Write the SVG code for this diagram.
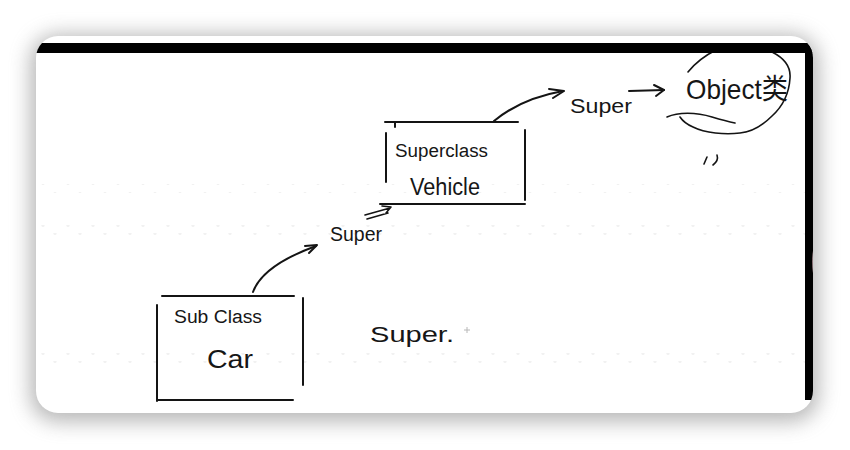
<svg xmlns="http://www.w3.org/2000/svg" width="850" height="450" viewBox="0 0 850 450">
  <style>
    .ink { fill: none; stroke: #141414; stroke-width: 2; stroke-linecap: round; stroke-linejoin: round; }
    .thin { fill: none; stroke: #141414; stroke-width: 1.6; stroke-linecap: round; stroke-linejoin: round; }
    .txt { font-family: "Liberation Sans", "Noto Sans CJK SC", sans-serif; fill: #161616; }
  </style>
  <defs>
    <filter id="shadow" x="-10%" y="-15%" width="120%" height="135%">
      <feGaussianBlur stdDeviation="10"/>
    </filter>
    <clipPath id="cardClip">
      <rect x="36" y="36" width="777" height="377" rx="22"/>
    </clipPath>
    <pattern id="dots" x="40" y="0" width="25" height="8" patternUnits="userSpaceOnUse">
      <circle cx="3" cy="1.5" r="1.6" fill="#f1f1f1"/>
    </pattern>
    <pattern id="dots2" x="52" y="0" width="25" height="8" patternUnits="userSpaceOnUse">
      <circle cx="3" cy="1.5" r="1.6" fill="#f1f1f1"/>
    </pattern>
  </defs>

  <!-- background and card -->
  <rect x="0" y="0" width="850" height="450" fill="#ffffff"/>
  <rect x="30" y="34" width="789" height="388" rx="28" fill="#8a8a8a" opacity="0.6" filter="url(#shadow)"/>
  <rect x="36" y="36" width="777" height="377" rx="22" fill="#ffffff"/>

  <!-- faint dot grid -->
  <g id="grid" clip-path="url(#cardClip)">
    <rect x="40" y="99" width="765" height="4" fill="url(#dots)"/>
    <rect x="40" y="107" width="765" height="4" fill="url(#dots2)"/>
    <rect x="40" y="181" width="765" height="4" fill="url(#dots)"/>
    <rect x="40" y="189" width="765" height="4" fill="url(#dots2)"/>
    <rect x="40" y="225" width="765" height="4" fill="url(#dots)"/>
    <rect x="40" y="233" width="765" height="4" fill="url(#dots2)"/>
    <rect x="40" y="308" width="765" height="4" fill="url(#dots)"/>
    <rect x="40" y="316" width="765" height="4" fill="url(#dots2)"/>
    <rect x="40" y="353" width="765" height="4" fill="url(#dots)"/>
    <rect x="40" y="361" width="765" height="4" fill="url(#dots2)"/>
  </g>

  <!-- nodes -->
  <g id="car">
    <path class="ink" d="M162,296 L294,296 M157,305 L157,401 M157,400 L293,400 M303,298 L303,385"/>
    <text class="txt" x="174" y="323" font-size="18" textLength="88" lengthAdjust="spacingAndGlyphs">Sub Class</text>
    <text class="txt" x="207" y="368" font-size="25" textLength="46" lengthAdjust="spacingAndGlyphs">Car</text>
  </g>

  <g id="vehicle">
    <path class="ink" d="M385,122 L518,122 M395,122 L395,127 M386,133 L386,182 M525,130 L525,200 M380,204 L525,204"/>
    <text class="txt" x="395" y="157" font-size="18" textLength="93" lengthAdjust="spacingAndGlyphs">Superclass</text>
    <text class="txt" x="410" y="195" font-size="23" textLength="70" lengthAdjust="spacingAndGlyphs">Vehicle</text>
  </g>

  <g id="super-mid">
    <text class="txt" x="330" y="241" font-size="20" textLength="52" lengthAdjust="spacingAndGlyphs">Super</text>
  </g>

  <g id="super-top">
    <text class="txt" x="570" y="113" font-size="20" textLength="62" lengthAdjust="spacingAndGlyphs">Super</text>
  </g>

  <g id="object">
    <text class="txt" x="686" y="99" font-size="28" textLength="102" lengthAdjust="spacingAndGlyphs">Object类</text>
    <path class="thin" d="M688,72 C696,62 704,56 716,50 M772,52 C784,58 791,66 790,78 C789,95 782,107 772,116 C762,126 752,132 740,133 C725,135 705,133 693,127 C686,124 682,120 680,117"/>
    <path class="thin" d="M667,117 C678,112 696,112 712,117 C722,120 730,122 735,123"/>
    <path class="thin" d="M704,164 L707,157 M713,165 C717,162 718,158 717,155"/>
  </g>

  <g id="super-bottom">
    <text class="txt" x="370" y="342" font-size="22" textLength="84" lengthAdjust="spacingAndGlyphs">Super.</text>
    <path d="M464,330 L470,330 M467,327 L467,333" stroke="#b8b8b8" stroke-width="1" fill="none"/>
  </g>

  <!-- connectors -->
  <g id="connectors">
    <path class="ink" d="M253,292 C260,273 283,258 316,246"/>
    <path class="ink" d="M305,246 L317,245 L309,253"/>
    <path class="thin" d="M365,215 L390,208 M367,219 L388,213 M382,206 L391,207 L386,213"/>
    <path class="ink" d="M494,121 C512,106 535,96 563,91"/>
    <path class="ink" d="M549,89 L564,91 L553,98"/>
    <path class="ink" d="M629,91 L664,90"/>
    <path class="ink" d="M654,85 L664,90 L656,96"/>
  </g>

  <!-- screen frame bars -->
  <g id="frame" clip-path="url(#cardClip)">
    <rect x="30" y="43" width="790" height="10" fill="#000000"/>
    <rect x="805" y="43" width="15" height="357" fill="#000000"/>
    <ellipse cx="815" cy="262" rx="3" ry="15" fill="#c9a6ae" opacity="0.7"/>
  </g>
</svg>
